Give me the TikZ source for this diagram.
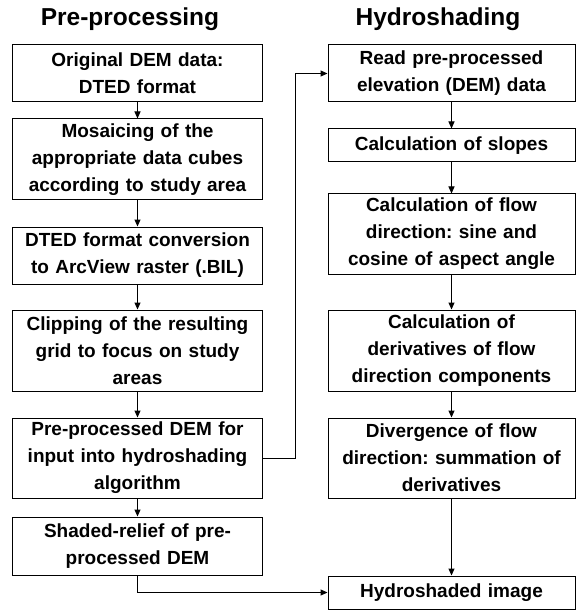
\documentclass[tikz,border=0pt]{standalone}
\usepackage{fontspec}
\setmainfont{Liberation Sans}
\usetikzlibrary{arrows.meta}
\frenchspacing
\begin{document}
\begin{tikzpicture}[x=1pt,y=-1pt,
  box/.style={draw=black, line width=1pt, align=center, inner sep=0pt,
    font=\fontsize{19}{27}\selectfont\bfseries\frenchspacing},
  lbox/.style={box, minimum width=250pt, text width=246pt},
  rbox/.style={box, minimum width=247pt, text width=243pt},
  title/.style={font=\fontsize{24.5}{28}\selectfont\bfseries, inner sep=0pt, anchor=base},
  arr/.style={-{Triangle[length=7pt,width=6pt]}, line width=1pt},
  ]
\useasboundingbox (0,0) rectangle (576,612);
\fill[white] (0,0) rectangle (576,612);

\node[title] (T1) at (130,26) {Pre-processing};
\node[title] (T2) at (438,26) {Hydroshading};

\node[lbox, minimum height=57pt] (L1) at (137.5,73.5) {Original DEM data:\\DTED format};
\node[lbox, minimum height=81pt] (L2) at (137.5,159.5) {Mosaicing of the\\appropriate data cubes\\according to study area};
\node[lbox, minimum height=57pt] (L3) at (137.5,255.5) {DTED format conversion\\to ArcView raster (.BIL)};
\node[lbox, minimum height=81pt] (L4) at (137.5,350.5) {Clipping of the resulting\\grid to focus on study\\areas};
\node[lbox, minimum height=80pt] (L5) at (137.5,458) {Pre-processed DEM for\\input into hydroshading\\algorithm};
\node[lbox, minimum height=58pt] (L6) at (137.5,546) {Shaded-relief of pre-\\processed DEM};

\node[rbox, minimum height=57pt] (R1) at (451.5,73.5) {Read pre-processed\\elevation (DEM) data};
\node[rbox, minimum height=33pt] (R2) at (451.5,145.5) {Calculation of slopes};
\node[rbox, minimum height=80pt] (R3) at (451.5,234) {Calculation of flow\\direction: sine and\\cosine of aspect angle};
\node[rbox, minimum height=81pt] (R4) at (451.5,350.5) {Calculation of\\derivatives of flow\\direction components};
\node[rbox, minimum height=80pt] (R5) at (451.5,458) {Divergence of flow\\direction: summation of\\derivatives};
\node[rbox, minimum height=33pt] (R6) at (451.5,592.5) {Hydroshaded image};

\draw[arr] (L1) -- (L2);
\draw[arr] (L2) -- (L3);
\draw[arr] (L3) -- (L4);
\draw[arr] (L4) -- (L5);
\draw[arr] (L5) -- (L6);

\draw[arr] (R1) -- (R2);
\draw[arr] (R2) -- (R3);
\draw[arr] (R3) -- (R4);
\draw[arr] (R4) -- (R5);
\draw[arr] (R5) -- (R6);

\coordinate (bend) at (295,0);
\draw[arr] (L5.east) -- (L5.east -| bend) -- (R1.west -| bend) -- (R1.west);
\draw[arr] (L6.south) |- (R6.west);
\end{tikzpicture}
\end{document}
